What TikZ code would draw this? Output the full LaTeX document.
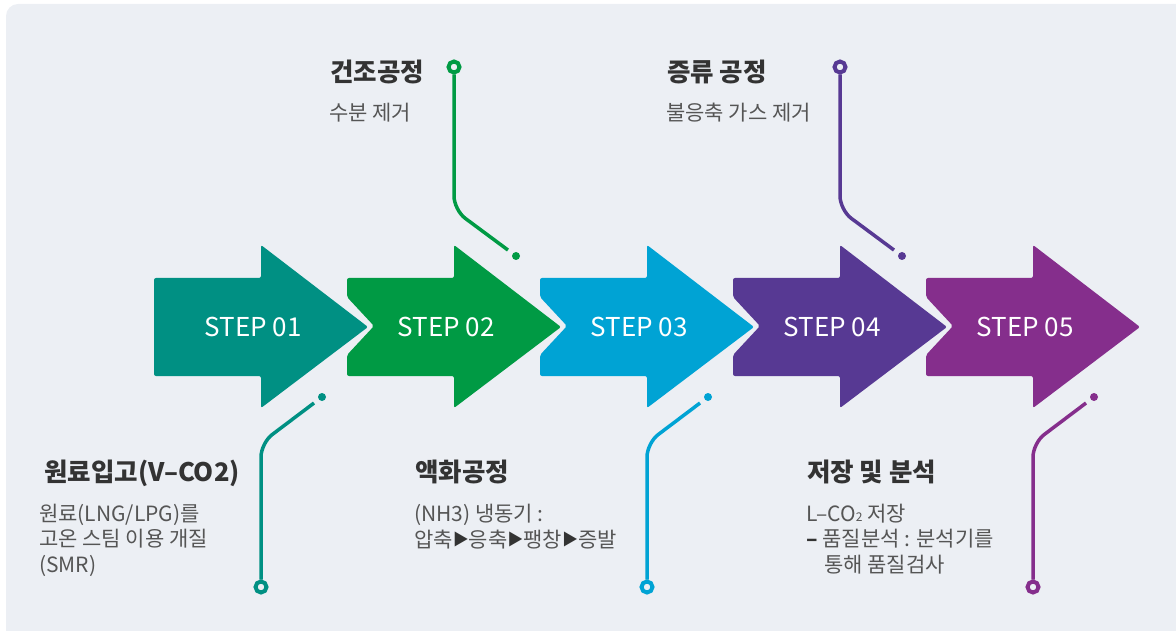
\documentclass[tikz,border=0pt]{standalone}
\usepackage{fontspec}
\setmainfont{Noto Sans CJK KR}
\usepackage{tikz}

\definecolor{bgpanel}{HTML}{ECEFF4}
\definecolor{stepteal}{HTML}{009083}
\definecolor{stepgreen}{HTML}{009A44}
\definecolor{stepcyan}{HTML}{00A3D4}
\definecolor{stepindigo}{HTML}{573993}
\definecolor{steppurple}{HTML}{852E8C}
\definecolor{titlegray}{HTML}{333333}
\definecolor{bodygray}{HTML}{555555}

\newcommand{\tri}{\raisebox{1.5pt}{\fontsize{16}{16}\selectfont\color{titlegray}▶}}

\begin{document}
\begin{tikzpicture}[x=1pt,y=-1pt,
    steplabel/.style={text=white,inner sep=0pt,font=\fontsize{26}{26}\selectfont},
    title/.style={anchor=base west,inner sep=0pt,text=titlegray,font=\fontsize{25.5}{25.5}\selectfont\bfseries},
    body/.style={anchor=base west,inner sep=0pt,text=bodygray,align=left,font=\fontsize{21}{25.5}\selectfont},
    dot/.style={circle,fill=#1,inner sep=0pt,minimum size=8pt,outer sep=6pt},
    ring/.style={circle,draw=#1,line width=4pt,fill=bgpanel,inner sep=0pt,minimum size=11pt},
    link/.style={draw=#1,line width=3.5pt,rounded corners=14pt}]

    % Background panel
    \clip (0,0) rectangle (1176,631);
    \fill[bgpanel,rounded corners=12pt] (6,4) rectangle (1200,660);

    % Draw the arrows
    \fill[stepteal,rounded corners=2pt] (154,278) -- ++(107,0) -- ++(0,-33) -- ++(107,82) -- ++(-107,81) -- ++(0,-32) -- ++(-107,0) -- cycle;
    \fill[stepgreen,rounded corners=2pt] (347,278) -- ++(107,0) -- ++(0,-33) -- ++(107,82) -- ++(-107,81) -- ++(0,-32) -- ++(-107,0) -- ++(0,-21) -- ++(27,-29) -- ++(-27,-29) -- cycle;
    \fill[stepcyan,rounded corners=2pt] (540,278) -- ++(107,0) -- ++(0,-33) -- ++(107,82) -- ++(-107,81) -- ++(0,-32) -- ++(-107,0) -- ++(0,-21) -- ++(27,-29) -- ++(-27,-29) -- cycle;
    \fill[stepindigo,rounded corners=2pt] (733,278) -- ++(107,0) -- ++(0,-33) -- ++(107,82) -- ++(-107,81) -- ++(0,-32) -- ++(-107,0) -- ++(0,-21) -- ++(27,-29) -- ++(-27,-29) -- cycle;
    \fill[steppurple,rounded corners=2pt] (926,278) -- ++(107,0) -- ++(0,-33) -- ++(107,82) -- ++(-107,81) -- ++(0,-32) -- ++(-107,0) -- ++(0,-21) -- ++(27,-29) -- ++(-27,-29) -- cycle;

    % Label the arrows
    \node[steplabel] (s1) at (253,327) {STEP 01};
    \node[steplabel] (s2) at (446,327) {STEP 02};
    \node[steplabel] (s3) at (639,327) {STEP 03};
    \node[steplabel] (s4) at (832,327) {STEP 04};
    \node[steplabel] (s5) at (1025,327) {STEP 05};

    % Draw the connectors (down for 01, 03, 05; up for 02, 04)
    \node[dot=stepteal] (d1) at (322,397) {};
    \node[ring=stepteal] (r1) at (261,587) {};
    \coordinate (c1) at (261,443);
    \draw[link=stepteal] (d1) -- (c1) -- (r1);

    \node[dot=stepgreen] (d2) at (516,256) {};
    \node[ring=stepgreen] (r2) at (454,67) {};
    \coordinate (c2) at (454,210);
    \draw[link=stepgreen] (d2) -- (c2) -- (r2);

    \node[dot=stepcyan] (d3) at (708,397) {};
    \node[ring=stepcyan] (r3) at (647,587) {};
    \coordinate (c3) at (647,443);
    \draw[link=stepcyan] (d3) -- (c3) -- (r3);

    \node[dot=stepindigo] (d4) at (902,256) {};
    \node[ring=stepindigo] (r4) at (840,67) {};
    \coordinate (c4) at (840,210);
    \draw[link=stepindigo] (d4) -- (c4) -- (r4);

    \node[dot=steppurple] (d5) at (1094,397) {};
    \node[ring=steppurple] (r5) at (1033,587) {};
    \coordinate (c5) at (1033,443);
    \draw[link=steppurple] (d5) -- (c5) -- (r5);

    % Texts of each step (body nodes sit on the baseline of their last line)
    \node[title] (t1) at (44,481) {원료입고(V–CO2)};
    \node[body] (b1) at (39,572) {원료(LNG/LPG)를\\고온 스팀 이용 개질\\(SMR)};

    \node[title] (t2) at (330,82) {건조공정};
    \node[body] (b2) at (329,121) {수분 제거};

    \node[title] (t3) at (415,481) {액화공정};
    \node[body] (b3) at (414,547) {(NH3) 냉동기 :\\압축\tri 응축\tri 팽창\tri 증발};

    \node[title] (t4) at (667,82) {증류 공정};
    \node[body] (b4) at (666,121) {불응축 가스 제거};

    \node[title] (t5) at (807,481) {저장 및 분석};
    \node[body] (b5) at (806,572) {L–CO{\fontsize{12}{12}\selectfont 2} 저장\\{\color{titlegray}\bfseries –} 품질분석 : 분석기를\\\hspace*{18pt}통해 품질검사};
  \end{tikzpicture}
\end{document}
